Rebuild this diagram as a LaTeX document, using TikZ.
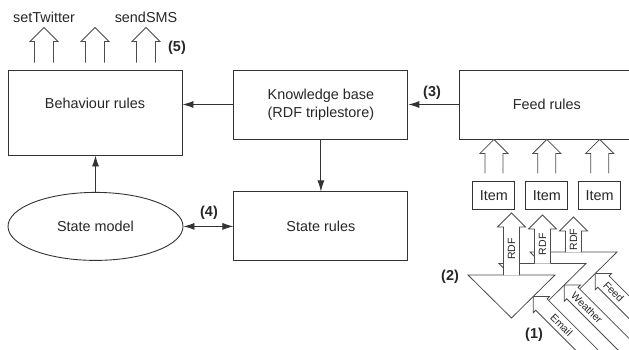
\documentclass[tikz,border=0pt]{standalone}
\usepackage{fontspec}
\setmainfont{Liberation Sans}
\usetikzlibrary{shapes.geometric,arrows.meta,positioning}

\begin{document}
\begin{tikzpicture}[
    x=1pt, y=-1pt,
    node distance=51pt,
    >={Latex[length=11pt,width=7pt]},
    every node/.style={text=black!85},
    box/.style={rectangle, draw=black!80, line width=0.9pt, minimum width=174pt, minimum height=69pt, align=center, inner sep=0pt, font=\fontsize{14.4}{18}\selectfont},
    item/.style={box, minimum width=42pt, minimum height=28pt},
    oval/.style={ellipse, draw=black!80, line width=0.9pt, minimum width=175pt, minimum height=68pt, inner sep=0pt, font=\fontsize{14.4}{18}\selectfont},
    arrow/.style={->, line width=0.9pt, draw=black!80},
    hollow/.style={draw=black!70, line width=0.8pt, fill=white},
    tri/.style={draw=black!70, line width=0.8pt, fill=white},
    txt/.style={inner sep=0pt, font=\fontsize{14.4}{18}\selectfont},
    num/.style={inner sep=0pt, font=\fontsize{14.4}{18}\selectfont\bfseries},
    small/.style={inner sep=0pt, font=\fontsize{10.5}{12}\selectfont},
    pics/harrow/.style args={#1/#2/#3}{code={
      \draw[hollow] (-#2,#1) -- (-#2,#3) -- (-#3,#3) -- (0,0) -- (#3,#3) -- (#2,#3) -- (#2,#1);
    }}
    ]

    \path[use as bounding box] (0,0) rectangle (629,350);
    \clip (0,0) rectangle (629,350);

    % Bloques principales
    \node[box, minimum height=85pt, text depth=18pt] (beh) at (95,112.5) {Behaviour rules};
    \node[box, below right=0pt and 51pt of beh.north east] (kb) {Knowledge base\\(RDF triplestore)};
    \node[box, right=of kb] (feed) {Feed rules};
    \node[box, below=52pt of kb] (sr) {State rules};
    \node[oval, left=50pt of sr] (sm) {State model};

    % Items
    \node[item, below=42pt of feed] (it2) {Item};
    \node[item, left=10pt of it2] (it1) {Item};
    \node[item, right=10pt of it2] (it3) {Item};

    % Flechas
    \draw[arrow] (kb.west) -- (kb.west -| beh.east);
    \draw[arrow] (feed) -- (kb);
    \draw[arrow] (kb) -- (sr);
    \draw[arrow] (sm.north) -- (sm.north |- beh.south);
    \draw[arrow, <->] (sm) -- (sr);

    % Salidas
    \foreach \i/\dx in {1/-51,2/0,3/51}{
      \coordinate (out\i) at ([xshift=\dx pt, yshift=42pt]beh.north);
      \pic at (out\i) {harrow=35/9.5/14};
    }
    \node[txt, above=5pt of out1] (tw) {setTwitter};
    \node[txt, above=5pt of out3] (sms) {sendSMS};

    % Items -> Feed rules
    \foreach \i in {1,2,3}
      \pic at (it\i.north |- feed.south) {harrow=34/9/14};

    % Fuentes, de atras hacia adelante
    \foreach \k/\inp/\d in {2/Feed/26,1/Weather/32,0/Email/40}{
      \begin{scope}[shift={(31*\k,-11.5*\k)}]
        \begin{scope}[shift={(533.25,296.5)}, rotate=45]
          \pic[transform shape] {harrow=110/8/11.5};
          \node[small, rotate=-45] (src\k) at (0,\d) {\inp};
        \end{scope}
        \draw[tri] (468,275) -- (555,275) -- (511.5,318) -- cycle;
        \pic at (511.5,213+13.5*\k) {harrow=62-13.5*\k/8/14};
        \node[small, rotate=90] (rdf\k) at (511.5,249+6.75*\k) {RDF};
      \end{scope}
    }

    % Etiquetas
    \node[num] (n1) at (534,335) {(1)};
    \node[num] (n2) at (450,277) {(2)};
    \node[num] (n3) at (432,93) {(3)};
    \node[num] (n4) at (209,213) {(4)};
    \node[num] (n5) at (177,48) {(5)};

\end{tikzpicture}
\end{document}
